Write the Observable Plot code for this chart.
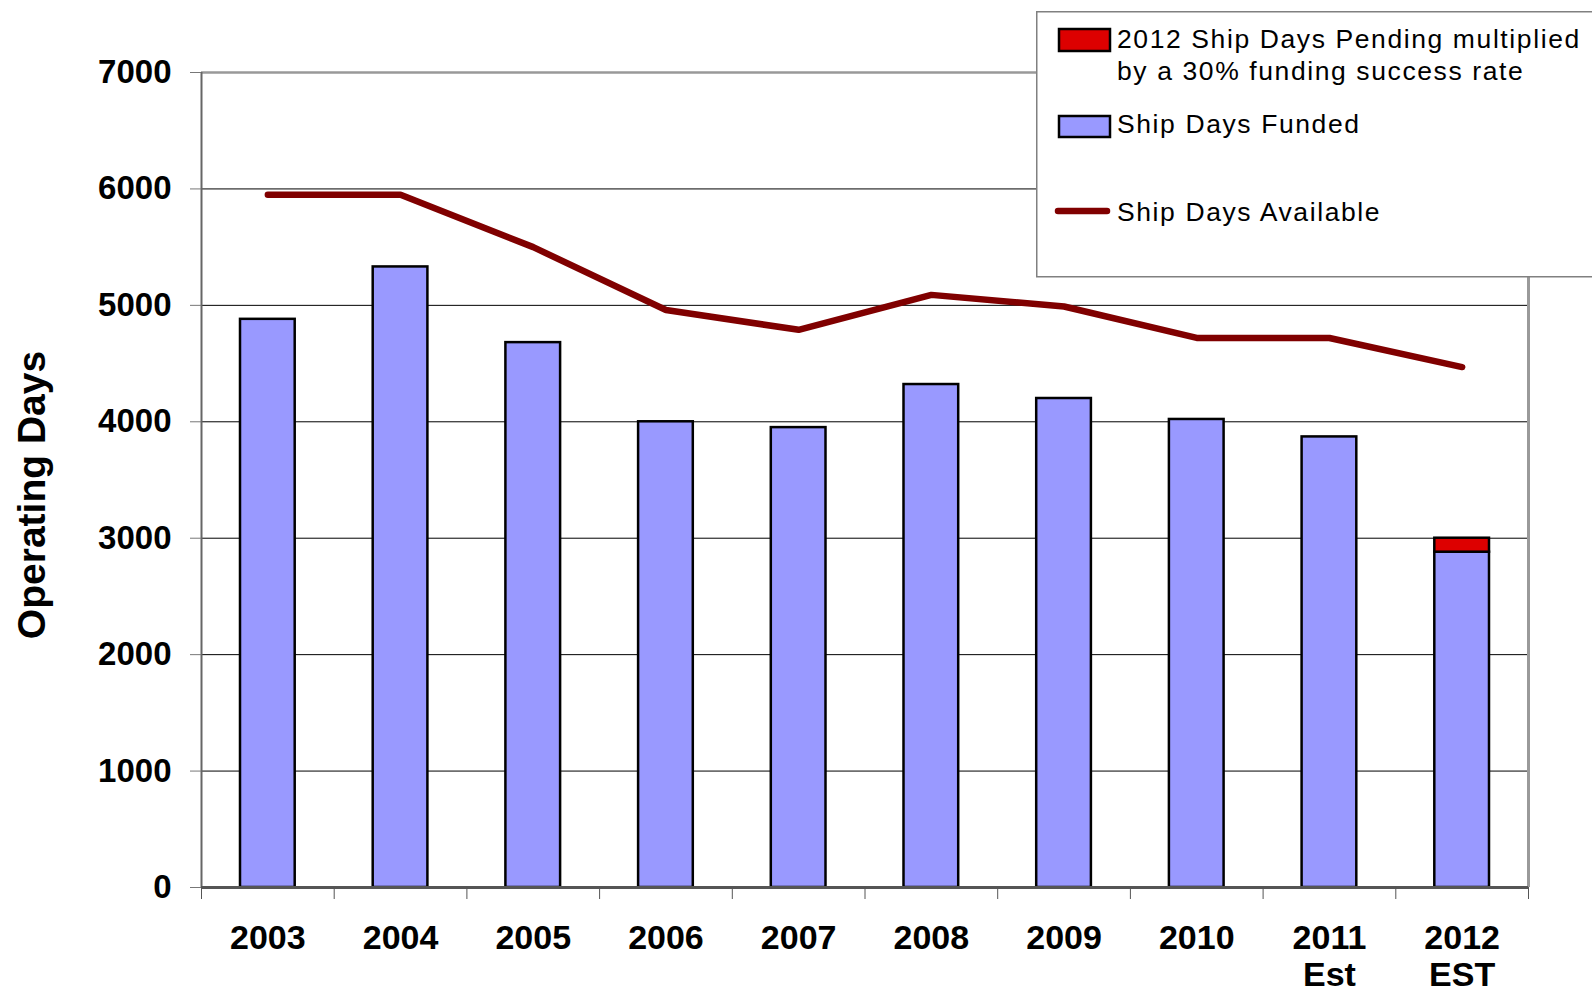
<!DOCTYPE html>
<html><head><meta charset="utf-8">
<script src="https://cdn.jsdelivr.net/npm/d3@7"></script>
<script src="https://cdn.jsdelivr.net/npm/@observablehq/plot@0.6"></script>
<style>
body{margin:0;background:#fff;}
#wrap{position:relative;width:1592px;height:997px;overflow:hidden;font-family:"Liberation Sans",Arial,sans-serif;background:#fff;}
#wrap svg{position:absolute;left:0;top:0;}
</style></head><body><div id="wrap"></div>
<script>
const years = ["2003","2004","2005","2006","2007","2008","2009","2010","2011\nEst","2012\nEST"];
const funded = [4880,5330,4680,4000,3950,4320,4200,4020,3870,2880];
const pending = [0,0,0,0,0,0,0,0,0,120];
const available = [5950,5950,5500,4960,4790,5090,4990,4720,4720,4470];
const yTicks = [0,1000,2000,3000,4000,5000,6000,7000];
const seriesNames = ["2012 Ship Days Pending multiplied\nby a 30% funding success rate","Ship Days Funded","Ship Days Available"];
const yTitle = "Operating Days";

const data = years.map((label,i)=>({i,label,funded:funded[i],pending:pending[i],available:available[i]}));

const chart = Plot.plot({
  width:1592,height:997,marginLeft:201,marginRight:64,marginTop:72,marginBottom:110,
  style:{fontFamily:"Liberation Sans, Arial, sans-serif", background:"transparent", overflow:"visible", color:"#000"},
  x:{type:"linear",domain:[0,10]},
  y:{domain:[0,7000]},
  marks:[
    Plot.gridY(yTicks.filter(v=>v>0&&v<7000), {stroke:"#000", strokeOpacity:1, strokeWidth:1}),
    Plot.ruleY([7000],{stroke:"#999",strokeWidth:2.5}),
    Plot.ruleX([0],{stroke:"#666",strokeWidth:2}),
    Plot.ruleX([10],{stroke:"#9a9a9a",strokeWidth:3}),
    Plot.rectY(data,{x1:"i",x2:d=>d.i+1,y1:0,y2:"funded",fill:"#9999ff",stroke:"#000",strokeWidth:2.5,insetLeft:39,insetRight:39}),
    Plot.rectY(data.filter(d=>d.pending>0),{x1:"i",x2:d=>d.i+1,y1:"funded",y2:d=>d.funded+d.pending,fill:"#dd0000",stroke:"#000",strokeWidth:2.5,insetLeft:39,insetRight:39}),
    Plot.ruleY([0],{stroke:"#555",strokeWidth:3}),
    Plot.line(data,{x:d=>d.i+0.5,y:"available",stroke:"#800000",strokeWidth:6.5,strokeLinecap:"round",strokeLinejoin:"miter"}),
    Plot.axisY({ticks:yTicks, tickSize:11, tickPadding:19, fontSize:33, fontWeight:"bold", stroke:"#777", fill:"#000", label:null, tickFormat:d=>String(d)}),
    Plot.axisX({ticks:d3.range(0,11), tickSize:12, tickFormat:()=>"", stroke:"#555", label:null}),
    Plot.axisX({ticks:d3.range(10).map(i=>i+0.5), tickSize:0, tickPadding:35, tickFormat:d=>years[Math.floor(d)], fontSize:34, fontWeight:"bold", lineHeight:1.1, fill:"#000", label:null}),
    Plot.text([yTitle],{frameAnchor:"left", textAnchor:"middle", dx:-169, dy:15, rotate:-90, fontSize:39, fontWeight:"bold", fill:"#000", style:"letter-spacing:3.2px"})
  ]
});
const wrap = document.getElementById("wrap");
wrap.appendChild(chart);

// legend overlay
const lg = d3.select(wrap).append("svg").attr("width",1592).attr("height",997)
  .style("font-family","Liberation Sans, Arial, sans-serif");
lg.append("rect").attr("x",1036.75).attr("y",11.75).attr("width",600).attr("height",265)
  .attr("fill","#fff").attr("stroke","#808080").attr("stroke-width",1.5);
lg.append("rect").attr("x",1059).attr("y",29).attr("width",51).attr("height",22)
  .attr("fill","#dd0000").attr("stroke","#000").attr("stroke-width",2.5);
lg.append("rect").attr("x",1059).attr("y",116).attr("width",51).attr("height",21)
  .attr("fill","#9999ff").attr("stroke","#000").attr("stroke-width",2.5);
lg.append("line").attr("x1",1058).attr("x2",1107).attr("y1",211).attr("y2",211)
  .attr("stroke","#800000").attr("stroke-width",6.5).attr("stroke-linecap","round");
const lines = [[seriesNames[0].split("\n")[0],48],[seriesNames[0].split("\n")[1],80],[seriesNames[1],133],[seriesNames[2],221]];
lines.forEach(([t,y])=>{
  lg.append("text").attr("x",1117).attr("y",y).attr("font-size",26.5).attr("fill","#000")
    .style("letter-spacing","1.6px").text(t);
});
</script>
</body></html>
